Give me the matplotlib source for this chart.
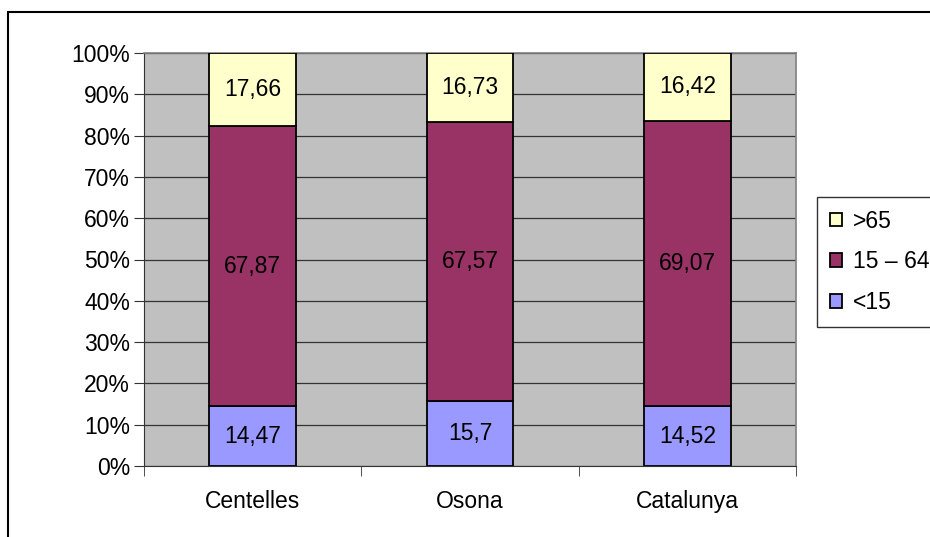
import matplotlib.pyplot as plt
import numpy as np
from matplotlib.patches import Rectangle
from matplotlib.ticker import FixedLocator

plt.rcParams["font.family"] = ["Liberation Sans", "DejaVu Sans"]

categories = ["Centelles", "Osona", "Catalunya"]
under_15 = [14.47, 15.7, 14.52]
age_15_64 = [67.87, 67.57, 69.07]
over_65 = [17.66, 16.73, 16.42]
series_names = [">65", "15 \u2013 64", "<15"]

FS = 16.5


def fmt(v: float) -> str:
    return f"{v:g}".replace(".", ",")


W, H = 930, 537
fig = plt.figure(figsize=(W / 100, H / 100), dpi=100)
fig.patches.append(Rectangle((8 / W, -0.1), 1.2, (H - 12) / H + 0.1, transform=fig.transFigure,
                             fill=False, edgecolor="black", linewidth=1.5))

ax = fig.add_axes([144 / W, (H - 466) / H, 652 / W, 413 / H])
ax.set_facecolor("#C0C0C0")

x = np.arange(len(categories))
totals = np.array(under_15) + np.array(age_15_64) + np.array(over_65)
p1 = np.array(under_15) / totals * 100
p2 = np.array(age_15_64) / totals * 100
p3 = np.array(over_65) / totals * 100

width = 0.4
kw = dict(width=width, edgecolor="black", linewidth=1.3, zorder=3)
b1 = ax.bar(x, p1, color="#9999FF", **kw)
b2 = ax.bar(x, p2, bottom=p1, color="#993366", **kw)
b3 = ax.bar(x, p3, bottom=p1 + p2, color="#FFFFCC", **kw)

for i in range(len(categories)):
    ax.text(x[i], p1[i] / 2, fmt(under_15[i]), ha="center", va="center", fontsize=FS, zorder=4)
    ax.text(x[i], p1[i] + p2[i] / 2, fmt(age_15_64[i]), ha="center", va="center", fontsize=FS, zorder=4)
    ax.text(x[i], p1[i] + p2[i] + p3[i] / 2, fmt(over_65[i]), ha="center", va="center", fontsize=FS, zorder=4)

ax.set_xlim(-0.5, 2.5)
ax.set_ylim(0, 100)
ax.set_yticks(np.arange(0, 101, 10))
ax.set_yticklabels([f"{v}%" for v in range(0, 101, 10)], fontsize=FS)
ax.yaxis.grid(True, color="#333333", linewidth=0.9, zorder=1)
ax.set_axisbelow(True)

ax.set_xticks(x)
ax.set_xticklabels(categories, fontsize=FS)
ax.tick_params(axis="x", length=0, pad=17)
ax.xaxis.set_minor_locator(FixedLocator([-0.5, 0.5, 1.5, 2.5]))
ax.tick_params(axis="x", which="minor", length=7, color="#333333", direction="out")
ax.tick_params(axis="y", length=7, color="#333333", direction="out", pad=3)

for side in ["top", "right"]:
    ax.spines[side].set_color("#808080")
    ax.spines[side].set_linewidth(1.2)
for side in ["left", "bottom"]:
    ax.spines[side].set_color("#333333")

leg = fig.legend([b3, b2, b1], series_names, loc="upper left",
                 bbox_to_anchor=(817 / W, (H - 197) / H), borderaxespad=0, fontsize=FS,
                 frameon=True, fancybox=False, edgecolor="black", handlelength=0.55,
                 handleheight=0.55, handletextpad=0.45, labelspacing=0.78, borderpad=0.55)
leg.get_frame().set_linewidth(1.0)

fig.savefig("out.png", dpi=100)
